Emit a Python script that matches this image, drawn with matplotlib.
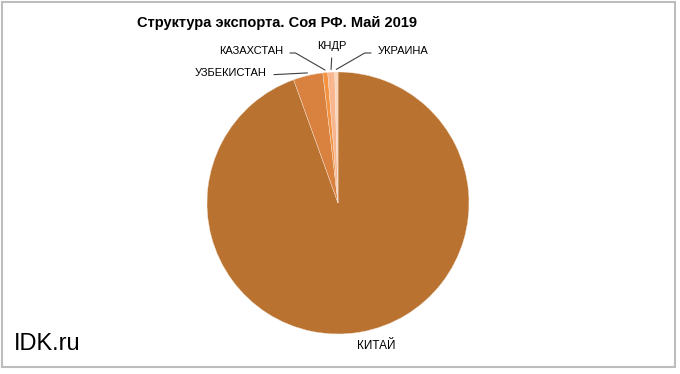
import numpy as np
import matplotlib
matplotlib.use("Agg")
import matplotlib.pyplot as plt
from matplotlib.patches import Rectangle

# export structure, soy, Russia, May 2019 (shares, %)
countries = ["КИТАЙ", "УЗБЕКИСТАН", "КАЗАХСТАН", "КНДР", "УКРАИНА"]
shares = [94.5, 3.65, 0.6, 0.85, 0.4]
colors = ["#B9722F", "#D9813F", "#F4923F", "#F9B58D", "#FCD5BB"]

W, H = 680, 374
plt.rcParams["font.family"] = ["Liberation Sans", "DejaVu Sans"]

fig = plt.figure(figsize=(W / 100, H / 100), dpi=100)
fig.patches.append(Rectangle((2 / W, (H - 367) / H), 673 / W, 365 / H, transform=fig.transFigure,
                             fill=False, edgecolor="#BDBDBD", lw=1.5))

cx, cy, r = 338, 203, 131
ax = fig.add_axes([(cx - r) / W, (H - cy - r) / H, 2 * r / W, 2 * r / H])
wedges, _ = ax.pie(shares, colors=colors, startangle=90, counterclock=False,
                   wedgeprops=dict(edgecolor="#F3E3D6", linewidth=0.3))
ax.set_xlim(-1, 1); ax.set_ylim(-1, 1)
ax.set_aspect("equal")
ax.axis("off")


def px(x, y):
    return (x / W, 1 - y / H)


def edge(w, k=1.0):
    a = np.deg2rad((w.theta1 + w.theta2) / 2)
    return k * np.cos(a), k * np.sin(a)


# label positions (figure pixels), alignment, leader style
labels = {
    "УЗБЕКИСТАН": ((267, 73), "right", None),
    "КАЗАХСТАН": ((283, 51), "right", "angle,angleA=0,angleB=-30,rad=0"),
    "КНДР": ((332, 46), "center", None),
    "УКРАИНА": ((378, 51), "left", "angle,angleA=0,angleB=30,rad=0"),
}
for w, name in zip(wedges, countries):
    if name == "КИТАЙ":
        fig.text(*px(376, 346), name, ha="center", va="center", fontsize=8.5)
        continue
    (tx, ty), ha, conn = labels[name]
    props = dict(arrowstyle="-", color="#404040", lw=0.8, shrinkA=3, shrinkB=0)
    if conn:
        props["connectionstyle"] = conn
    props["relpos"] = {"right": (1, 0.3), "left": (0, 0.3), "center": (0.5, 0)}[ha]
    ax.annotate(name, xy=edge(w, 1.02), xycoords="data", xytext=px(tx, ty),
                textcoords="figure fraction", ha=ha, va="center", fontsize=8,
                arrowprops=props, annotation_clip=False)

fig.text(*px(277, 23), "Структура экспорта. Соя РФ. Май 2019", ha="center", va="center",
         fontsize=10.5, fontweight="bold")
fig.text(*px(14, 344), "IDK.ru", ha="left", va="center", fontsize=17)

fig.savefig("out.png", dpi=100)
